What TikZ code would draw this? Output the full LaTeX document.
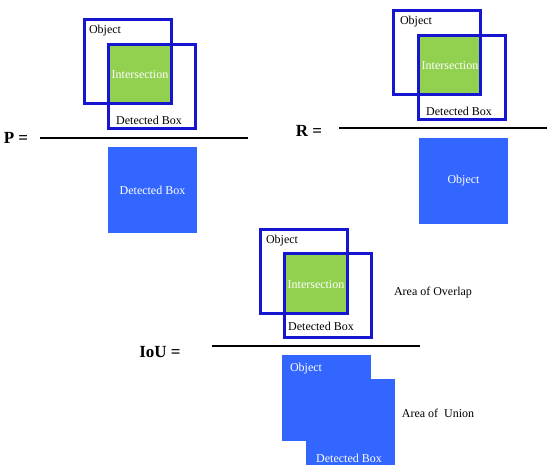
\documentclass[tikz,border=0pt]{standalone}
\usepackage{fontspec}
\setmainfont{Liberation Serif}
\usetikzlibrary{positioning}
\definecolor{boxblue}{RGB}{22,22,208}
\definecolor{areablue}{RGB}{51,102,255}
\definecolor{isgreen}{RGB}{146,208,80}
\tikzstyle{frame} = [draw=boxblue, line width=3pt, inner sep=0pt,
    minimum width=87pt, minimum height=84pt]
\tikzstyle{inter} = [fill=isgreen, inner sep=0pt, minimum width=62pt,
    minimum height=59pt]
\tikzstyle{area} = [fill=areablue, inner sep=0pt, minimum width=89pt,
    minimum height=86pt]
\tikzstyle{lbl} = [font=\fontsize{12}{14}\selectfont, inner sep=0pt]
\tikzstyle{eq} = [font=\fontsize{17}{20}\selectfont\bfseries, inner sep=0pt]

\begin{document}
\begin{tikzpicture}[x=1pt, y=-1pt]
  \useasboundingbox (0,0) rectangle (550,465);
  % Precision
  \node [inter] (pi) at (139.5,74.5) {};
  \node [frame] (po) at (127.5,62) {};
  \node [frame] (pd) at (152,87) {};
  \node [lbl] at (105,31) {Object};
  \node [lbl, text=white] at (140,75) {Intersection};
  \node [lbl] at (149,120) {Detected Box};
  \coordinate (pl) at (40,138);
  \coordinate (pr) at (248,138);
  \draw [line width=1.5pt] (pl) -- (pr);
  \node [eq] (peq) at (16,138) {P =};
  \node [area] (pa) at (152.5,190) {};
  \node [lbl, text=white] at (pa) {Detected Box};
  % Recall
  \node [inter] (ri) at (449.5,65.5) {};
  \node [frame] (ro) at (437,53) {};
  \node [frame] (rd) at (462,77.5) {};
  \node [lbl] at (416,22) {Object};
  \node [lbl, text=white] at (450,66) {Intersection};
  \node [lbl] at (459,111) {Detected Box};
  \coordinate (rl) at (339,128);
  \coordinate (rr) at (547,128);
  \draw [line width=1.5pt] (rl) -- (rr);
  \node [eq] (req) at (309,131) {R =};
  \node [area] (ra) at (463.5,181) {};
  \node [lbl, text=white] at (ra) {Object};
  % IoU
  \node [inter] (ii) at (316,284) {};
  \node [frame] (io) at (304,271.5) {};
  \node [frame] (id) at (328,296) {};
  \node [lbl] at (282,241) {Object};
  \node [lbl, text=white] at (316,285) {Intersection};
  \node [lbl] at (321,326) {Detected Box};
  \node [lbl] (over) at (433,293) {Area of Overlap};
  \coordinate (il) at (212,346);
  \coordinate (ir) at (420,346);
  \draw [line width=1.5pt] (il) -- (ir);
  \node [eq] (ieq) at (160,352) {IoU =};
  \node [area] (uo) at (326.5,398) {};
  \node [area] (ud) at (350.5,422) {};
  \node [lbl, text=white] at (306,369) {Object};
  \node [lbl, text=white] at (349,458) {Detected Box};
  \node [lbl] (union) at (438,413) {Area of~ Union};
\end{tikzpicture}
\end{document}
